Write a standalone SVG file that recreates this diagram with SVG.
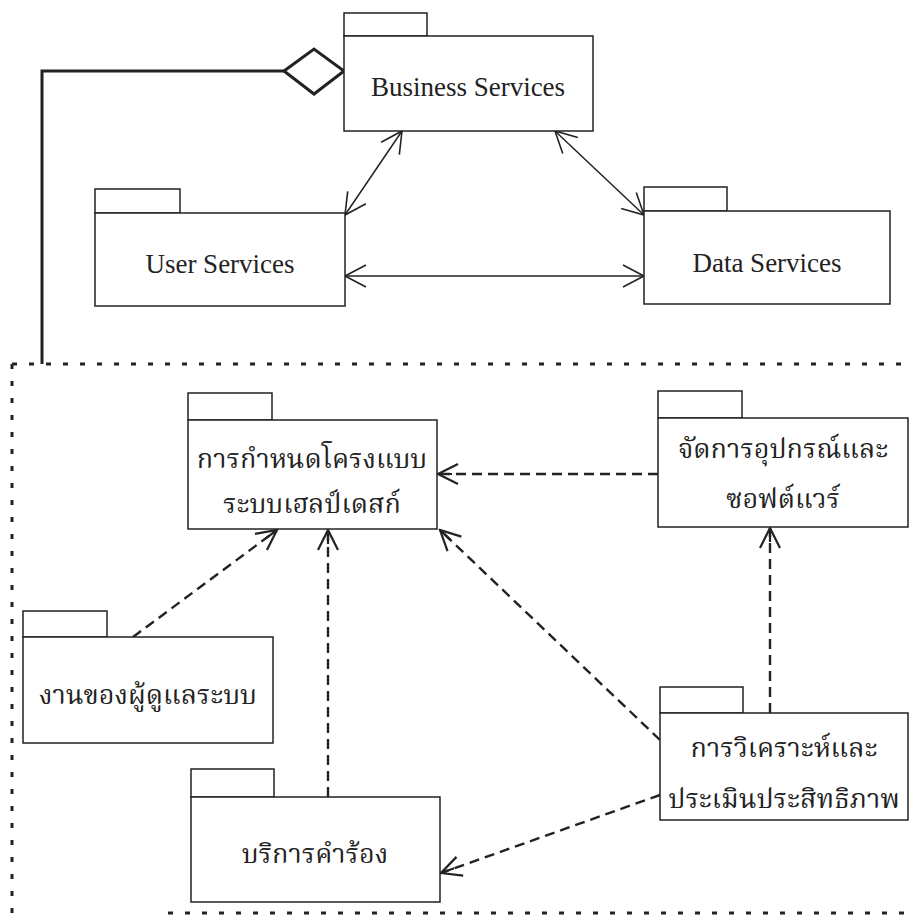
<svg xmlns="http://www.w3.org/2000/svg" width="911" height="916" viewBox="0 0 911 916">
  <style>
    .pkg { fill: #fff; stroke: #222; stroke-width: 1.5; }
    .en { font-family: "Liberation Serif", "Times New Roman", serif; font-size: 27px; fill: #222; text-anchor: middle; }
    .th { font-family: "Noto Serif Thai", "Noto Sans Thai", "Garuda", "Loma", "Liberation Serif", serif; font-size: 27px; fill: #222; text-anchor: middle; }
    .solid { fill: none; stroke: #222; stroke-width: 1.5; }
    .dash { fill: none; stroke: #222; stroke-width: 2.4; stroke-dasharray: 10 6; }
    .border { fill: none; stroke: #222; stroke-width: 3; stroke-dasharray: 5 12; }
  </style>
  <defs>
    <marker id="open" viewBox="-22 -12 24 24" refX="0" refY="0" markerWidth="24" markerHeight="24" markerUnits="userSpaceOnUse" orient="auto-start-reverse">
      <path d="M-21,-11 L0,0 L-21,11" fill="none" stroke="#222" stroke-width="1.6"/>
    </marker>
    <marker id="openD" viewBox="-22 -12 24 24" refX="0" refY="0" markerWidth="24" markerHeight="24" markerUnits="userSpaceOnUse" orient="auto">
      <path d="M-20,-10 Q-8,-4 0,0 Q-8,4 -20,10 M0,0 L-14,0" fill="none" stroke="#222" stroke-width="2.2"/>
    </marker>
  </defs>

  <!-- subsystem boundary -->
  <g id="boundary">
    <path class="border" d="M12,364 H906"/>
    <path class="border" d="M12,364 V916"/>
    <path class="border" d="M168,913 H906"/>
  </g>

  <g id="connectors">
    <!-- aggregation to the subsystem -->
    <path d="M284,71 H42 V364" fill="none" stroke="#222" stroke-width="3"/>
    <path d="M284,71 L314,49 L344,71 L314,94 Z" fill="#fff" stroke="#222" stroke-width="3"/>
    <!-- layer associations -->
    <path class="solid" d="M402,131 L345,215" marker-start="url(#open)" marker-end="url(#open)"/>
    <path class="solid" d="M555,131 L644,215" marker-start="url(#open)" marker-end="url(#open)"/>
    <path class="solid" d="M345,276 H644" marker-start="url(#open)" marker-end="url(#open)"/>
    <!-- dependencies -->
    <path class="dash" d="M658,474 H438" marker-end="url(#openD)"/>
    <path class="dash" d="M770,713 V528" marker-end="url(#openD)"/>
    <path class="dash" d="M660,740 L440,530" marker-end="url(#openD)"/>
    <path class="dash" d="M660,795 L441,873" marker-end="url(#openD)"/>
    <path class="dash" d="M328,797 V530" marker-end="url(#openD)"/>
    <path class="dash" d="M133,637 L277,530" marker-end="url(#openD)"/>
  </g>

  <g id="business-services">
    <rect class="pkg" x="344" y="13" width="83" height="23"/>
    <rect class="pkg" x="344" y="36" width="249" height="95"/>
    <text class="en" x="468" y="96">Business Services</text>
  </g>

  <g id="user-services">
    <rect class="pkg" x="95" y="189" width="85" height="24"/>
    <rect class="pkg" x="95" y="213" width="250" height="93"/>
    <text class="en" x="220" y="273">User Services</text>
  </g>

  <g id="data-services">
    <rect class="pkg" x="644" y="187" width="83" height="24"/>
    <rect class="pkg" x="644" y="211" width="246" height="93"/>
    <text class="en" x="767" y="272">Data Services</text>
  </g>

  <g id="helpdesk-config">
    <rect class="pkg" x="188" y="393" width="84" height="27"/>
    <rect class="pkg" x="188" y="420" width="249" height="109"/>
    <text class="th" x="312" y="468">การกำหนดโครงแบบ</text>
    <text class="th" x="312" y="513">ระบบเฮลป์เดสก์</text>
  </g>

  <g id="hw-sw-management">
    <rect class="pkg" x="658" y="391" width="84" height="27"/>
    <rect class="pkg" x="658" y="418" width="250" height="109"/>
    <text class="th" x="783" y="458">จัดการอุปกรณ์และ</text>
    <text class="th" x="783" y="508">ซอฟต์แวร์</text>
  </g>

  <g id="admin-tasks">
    <rect class="pkg" x="23" y="611" width="84" height="26"/>
    <rect class="pkg" x="23" y="637" width="250" height="106"/>
    <text class="th" x="148" y="704">งานของผู้ดูแลระบบ</text>
  </g>

  <g id="request-service">
    <rect class="pkg" x="191" y="769" width="83" height="28"/>
    <rect class="pkg" x="191" y="797" width="249" height="105"/>
    <text class="th" x="315" y="863">บริการคำร้อง</text>
  </g>

  <g id="performance-analysis">
    <rect class="pkg" x="660" y="687" width="83" height="26"/>
    <rect class="pkg" x="660" y="713" width="248" height="107"/>
    <text class="th" x="784" y="757">การวิเคราะห์และ</text>
    <text class="th" x="784" y="808">ประเมินประสิทธิภาพ</text>
  </g>
</svg>
